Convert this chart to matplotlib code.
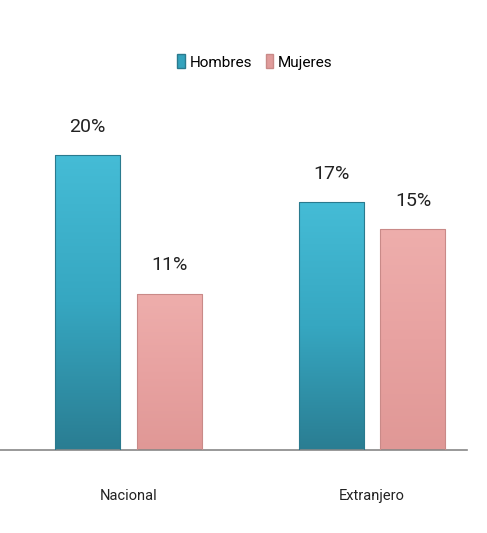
import matplotlib
matplotlib.use("Agg")
import matplotlib.pyplot as plt
import numpy as np
from matplotlib.colors import LinearSegmentedColormap
from matplotlib.patches import Patch

categories = ["Nacional", "Extranjero"]
series = ["Hombres", "Mujeres"]
hombres = [20.0, 16.8]
mujeres = [10.6, 15.0]
labels_h = ["20%", "17%"]
labels_m = ["11%", "15%"]

plt.rcParams['font.family'] = ['Roboto', 'DejaVu Sans']

fig = plt.figure(figsize=(4.87, 5.33), dpi=100)
ax = fig.add_axes([0.0, 0.1557, 0.959, 0.6567])

x = np.arange(len(categories))
w = 0.267
off = 0.168

cm_h = LinearSegmentedColormap.from_list("h", ["#2a7d92", "#36a7c1", "#45bcd6"])
cm_m = LinearSegmentedColormap.from_list("m", ["#e09896", "#e8a2a1", "#eeaeac"])

grad = np.linspace(0, 1, 256).reshape(-1, 1)

def draw(xpos, vals, cmap, edge, labels):
    bars = ax.bar(xpos, vals, w, color="none", edgecolor=edge, linewidth=0.8, zorder=3)
    for b, lab in zip(bars, labels):
        x0, y0 = b.get_x(), b.get_y()
        bw, bh = b.get_width(), b.get_height()
        im = ax.imshow(grad, cmap=cmap, aspect="auto", origin="lower",
                       extent=[x0, x0 + bw, y0, y0 + bh], zorder=2)
        im.set_clip_path(b)
        ax.text(x0 + bw / 2, bh + 1.3, lab, ha="center", va="bottom",
                fontsize=14, color="#222222")
    return bars

draw(x - off, hombres, cm_h, "#2a7a8e", labels_h)
draw(x + off, mujeres, cm_m, "#c98a88", labels_m)

ax.set_xlim(-0.528, 1.390)
ax.set_ylim(0, 23.73)
for s in ["top", "right", "left"]:
    ax.spines[s].set_visible(False)
ax.spines["bottom"].set_color("#888888")
ax.spines["bottom"].set_linewidth(1.2)
ax.set_yticks([])
ax.set_xticks(x)
ax.set_xticklabels(categories, fontsize=10.5, color="#222222")
ax.tick_params(axis="x", length=0, pad=28)

handles = [Patch(facecolor="#34a3bd", edgecolor="#2a7a8e"),
           Patch(facecolor="#e09c9b", edgecolor="#c98a88")]
fig.legend(handles, series, loc="center", bbox_to_anchor=(255 / 487, 1 - 62 / 533),
           ncol=2, frameon=False, fontsize=11, handlelength=0.5, handleheight=1.0,
           handletextpad=0.3, columnspacing=0.9)

fig.savefig("out.png", dpi=100, facecolor="white")
